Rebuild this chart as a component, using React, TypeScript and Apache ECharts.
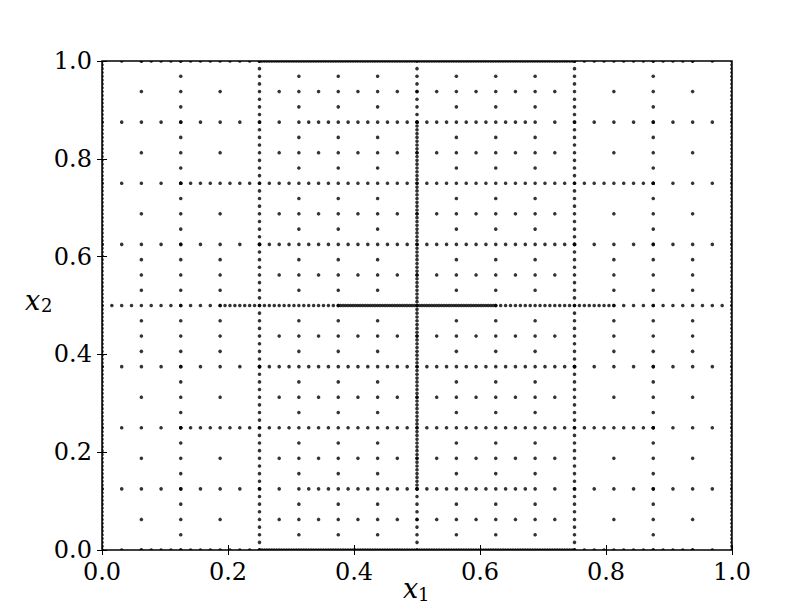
import React, { useEffect, useRef } from "react";
import * as echarts from "echarts";

// All coordinates below are in units of 1/256 of the unit square.
const UNIT = 256;

// Vertical runs of points: [x, yFrom, yTo, yStep]
const columnRuns: number[][] = [
  [0, 0, 256, 2],
  [32, 0, 256, 8],
  [64, 0, 256, 4],
  [128, 0, 32, 4],
  [128, 32, 224, 2],
  [128, 224, 256, 4],
  [192, 0, 256, 4],
  [224, 0, 256, 8],
  [256, 0, 256, 2],
];

type Seg = number | [number, number, number]; // single x, or [xFrom, xTo, xStep]

// Recurring row patterns (x positions)
const rowA: Seg[] = [80, 96, 112, 144, 160, 176];
const rowB: Seg[] = [16, 48, [72, 184, 8], 208, 240];
const rowC: Seg[] = [16, 48, 80, 96, 112, 144, 160, 176, 208, 240];
const rowEdge: Seg[] = [[0, 16, 8], [16, 64, 4], [64, 192, 1], [192, 240, 4], [240, 256, 8]];
const rowEighth: Seg[] = [[0, 64, 8], 72, [80, 176, 4], 184, [192, 256, 8]];
const rowQuarter: Seg[] = [[0, 32, 8], [32, 224, 4], [224, 256, 8]];
const rowThreeEighth: Seg[] = [[0, 64, 8], [64, 192, 4], [192, 256, 8]];
const rowHalf: Seg[] = [[0, 48, 4], [48, 96, 2], [96, 160, 1], [160, 208, 2], [208, 256, 4]];

// Horizontal runs: [y, x positions]
const rowRuns: [number, Seg[]][] = [
  [0, rowEdge],
  [8, rowA], [16, rowB], [24, rowA],
  [32, rowEighth],
  [40, rowA], [48, rowB], [56, rowA],
  [64, rowQuarter],
  [72, rowA], [80, rowB], [88, rowA],
  [96, rowThreeEighth],
  [104, rowC], [112, rowB], [120, rowC],
  [128, rowHalf],
  [136, rowC], [144, rowB], [152, rowC],
  [160, rowThreeEighth],
  [168, rowA], [176, rowB], [184, rowA],
  [192, rowQuarter],
  [200, rowA], [208, rowB], [216, rowA],
  [224, rowEighth],
  [232, rowA], [240, rowB], [248, rowA],
  [256, rowEdge],
];

const axisMin = 0;
const axisMax = 1;
const tickInterval = 0.2;

function buildPoints(): number[][] {
  const pts: number[][] = [];
  for (const [x, y0, y1, step] of columnRuns) {
    for (let y = y0; y <= y1; y += step) pts.push([x / UNIT, y / UNIT]);
  }
  for (const [y, segs] of rowRuns) {
    for (const s of segs) {
      if (typeof s === "number") pts.push([s / UNIT, y / UNIT]);
      else for (let x = s[0]; x <= s[1]; x += s[2]) pts.push([x / UNIT, y / UNIT]);
    }
  }
  return pts;
}

const FONT = "DejaVu Serif";
const G = { left: 102, top: 61, width: 630, height: 489 };

export default function App() {
  const ref = useRef<HTMLDivElement>(null);
  useEffect(() => {
    if (!ref.current) return;
    const chart = echarts.init(ref.current, undefined, { renderer: "svg" });
    const line = { show: false };
    const tick = { show: true, inside: true, length: 5, lineStyle: { color: "#000", width: 1 } };
    const label = {
      color: "#000",
      fontFamily: FONT,
      fontSize: 24,
      formatter: (v: number) => v.toFixed(1),
    };
    const base = {
      type: "value" as const,
      min: axisMin,
      max: axisMax,
      interval: tickInterval,
      splitLine: { show: false },
      z: 10,
    };
    const mask = (x: number, y: number, w: number, h: number) => ({
      type: "rect",
      z: 5,
      silent: true,
      shape: { x, y, width: w, height: h },
      style: { fill: "#fff" },
    });
    const R = G.left + G.width;
    const B = G.top + G.height;
    chart.setOption({
      animation: false,
      backgroundColor: "#fff",
      grid: { ...G, show: false },
      xAxis: [
        { ...base, position: "bottom", axisLine: line, axisTick: tick, axisLabel: { ...label, margin: 10 } },
        { ...base, position: "top", axisLine: line, axisTick: tick, axisLabel: { show: false } },
      ],
      yAxis: [
        { ...base, position: "left", axisLine: line, axisTick: tick, axisLabel: { ...label, margin: 10 } },
        { ...base, position: "right", axisLine: line, axisTick: tick, axisLabel: { show: false } },
      ],
      series: [
        {
          type: "scatter",
          data: buildPoints(),
          symbol: "circle",
          symbolSize: 3.6,
          clip: false,
          z: 2,
          itemStyle: { color: "#000" },
          xAxisIndex: 0,
          yAxisIndex: 0,
        },
      ],
      graphic: [
        mask(0, 0, 812, G.top),
        mask(0, B, 812, 612 - B),
        mask(0, 0, G.left, 612),
        mask(R, 0, 812 - R, 612),
        {
          type: "rect",
          z: 30,
          silent: true,
          shape: { x: G.left, y: G.top, width: G.width, height: G.height },
          style: { fill: "none", stroke: "#000", lineWidth: 1.5 },
        },
        { type: "text", z: 20, x: 403, y: 588, style: { text: "x", font: `italic 27px "${FONT}"`, fill: "#000", verticalAlign: "middle" } },
        { type: "text", z: 20, x: 418, y: 594, style: { text: "1", font: `18px "${FONT}"`, fill: "#000", verticalAlign: "middle" } },
        { type: "text", z: 20, x: 25, y: 300, style: { text: "x", font: `italic 27px "${FONT}"`, fill: "#000", verticalAlign: "middle" } },
        { type: "text", z: 20, x: 41, y: 305, style: { text: "2", font: `18px "${FONT}"`, fill: "#000", verticalAlign: "middle" } },
      ],
    });
    return () => chart.dispose();
  }, []);
  return <div ref={ref} style={{ position: "absolute", left: 0, top: 0, width: 812, height: 612 }} />;
}
